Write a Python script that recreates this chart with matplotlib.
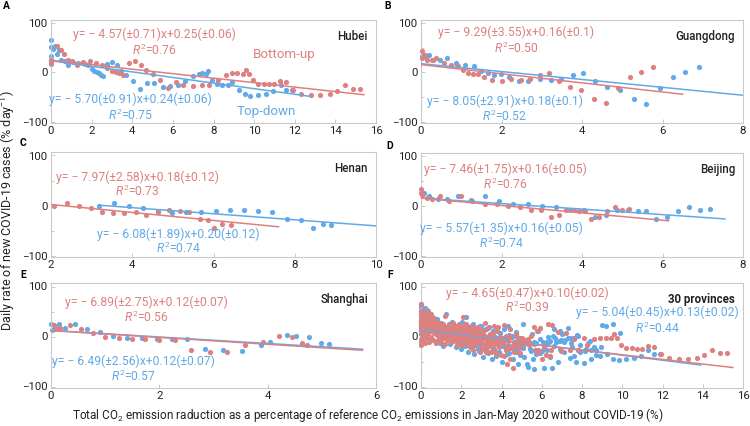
import numpy as np
import matplotlib.pyplot as plt

plt.rcParams['font.family'] = ['Roboto', 'DejaVu Sans']
plt.rcParams['mathtext.fontset'] = 'custom'
plt.rcParams['mathtext.rm'] = 'Roboto'
plt.rcParams['mathtext.it'] = 'Roboto:italic'

RED = '#dd8180'
BLUE = '#62a9e8'
SPINE = '#c9c9c9'

# ---------------- data ----------------
# A  Hubei
hubei_bu_x = [0, 0, 0.28, 0.48, 0.64, 0.82, 1.02, 1.3, 1.59, 1.92, 2.21, 2.49, 2.77, 2.98, 3.2, 3.36, 3.56,
              3.84, 4.13, 4.43, 4.7, 5.03, 5.36, 5.74, 6.13, 6.48, 6.97, 7.41, 7.79, 8.23, 8.61, 8.9, 9.18,
              9.43, 9.59, 9.75, 9.95, 10.2, 10.48, 10.74, 10.97, 11.26, 11.59, 11.92, 12.33, 12.82, 13.26,
              13.72, 14.08, 14.46, 14.87, 15.2]
hubei_bu_y = [26, 20, 54, 45, 37, 26, 23, 16, 22, 23, 20, 15, 9, 3, 1, -2, -5,
              20, 23, 16, 5, -3, -16, -31, -20, -26, -28, -26, -26, -16, -5, -2, -2,
              -3, 5, -3, -16, -23, -23, -24, -24, -18, -20, -35, -43, -45, -45,
              -43, -37, -26, -33, -33]
hubei_td_x = [0, 0.02, 0.02, 0, 0, 0.08, 0.2, 0.41, 0.31, 0.49, 0.69, 0.85, 1.07, 1.34, 1.67, 1.84, 2.0,
              2.13, 2.25, 2.38, 2.46, 2.57, 2.74, 2.98, 3.23, 3.43, 3.69, 4.05, 4.38, 4.74, 5.07, 5.49,
              5.85, 6.26, 6.62, 6.97, 7.28, 7.44, 7.61, 7.74, 7.92, 8.18, 8.44, 8.72, 8.92, 9.25, 9.54,
              9.82, 10.2, 10.6, 10.93, 11.3, 11.59, 11.87]
hubei_td_y = [66, 52, 33, 25, 17, 47, 54, 45, 37, 26, 23, 15, 22, 20, 18, 15, 8,
              3, 1, -2, -5, -7, 18, 22, 16, 3, -5, -17, -33, -22, -22, -29,
              -28, -26, -18, -7, -3, -2, -3, 3, -16, -24, -26, -26, -20, -35, -44,
              -47, -45, -43, -38, -26, -35, -35]

# B  Guangdong
guangdong_bu_x = [0.02, 0.02, 0.09, 0.15, 0.27, 0.38, 0.56, 0.74, 0.93, 1.05, 1.18, 1.3, 1.41, 1.57, 1.77,
                  2.0, 2.23, 2.48, 2.7, 2.95, 3.17, 3.42, 3.7, 3.98, 4.29, 4.59, 4.9, 5.19, 5.47, 5.77]
guangdong_bu_y = [44, 30, 35, 25, 26, 30, 20, 16, 13, 5, -1, -3, -3, -9, -16,
                  -17, -14, -16, -14, -5, -2, -17, -29, -36, -54, -63, -32, -10, 2, 12]
guangdong_td_x = [0.02, 0.12, 0.2, 0.3, 0.46, 0.64, 0.87, 1.09, 1.31, 1.49, 1.67, 1.82, 1.98, 2.19, 2.43,
                  2.67, 2.95, 3.23, 3.48, 3.77, 4.03, 4.32, 4.63, 4.94, 5.28, 5.6, 5.93, 6.26, 6.57, 6.9]
guangdong_td_y = [33, 32, 35, 25, 26, 30, 20, 16, 13, 3, -1, -5, -3, -9, -17,
                  -17, -14, -16, -14, -5, -2, -17, -29, -36, -54, -64, -32, -10, 2, 11]

# C  Henan
henan_bu_x = [2.07, 2.4, 2.7, 2.98, 3.25, 3.52, 3.8, 4.08, 4.34, 4.63, 4.9, 5.17, 5.4, 5.66, 5.86,
              6.02, 6.2, 6.42]
henan_bu_y = [0, 4.5, 0, -5, -13, -15, -15, -12, -18, -11, -8.5, -10, -12, -26, -28, -44, -37, -39]
henan_td_x = [3.18, 3.55, 3.92, 4.27, 4.63, 4.97, 5.33, 5.69, 6.05, 6.4, 6.75, 7.1, 7.45, 7.8, 8.15,
              8.45, 8.7, 8.9]
henan_td_y = [0, 4.5, 0, -5, -12, -15, -12, -13, -11, -9, -8.5, -10, -12, -26, -28, -44, -37, -39]

# D  Beijing
beijing_bu_x = [0, 0, 0.02, 0.14, 0.27, 0.47, 0.7, 1.0, 1.27, 1.58, 1.88, 2.17, 2.46, 2.73, 2.98, 3.23,
                3.44, 3.6, 3.79, 3.93, 4.07, 4.23, 4.43, 4.63, 4.83, 5.0, 5.18]
beijing_bu_y = [34, 27, 22, 17, 14, 21, 11, 21, 11, 4, 4, 0, -3, -8, -8, -23,
                -19, -9, -8, -11, -11, -26, -23, -10, -3, -9, -7]
beijing_td_x = [0.07, 0.21, 0.42, 0.65, 0.92, 1.25, 1.58, 1.93, 2.29, 2.65, 3.0, 3.36, 3.71, 4.04, 4.33,
                4.6, 4.88, 5.14, 5.38, 5.6, 5.83, 6.1, 6.38, 6.67, 6.92, 7.17]
beijing_td_y = [27, 21, 15, 14, 21, 12, 21, 11, 4, 4, 0, -3, -8, -8, -23,
                -19, -9, -8, -11, -11, -26, -23, -10, -3, -9, -7]

# E  Shanghai
shanghai_bu_x = [0.06, 0.1, 0.17, 0.35, 0.55, 0.77, 1.0, 1.25, 1.49, 1.74, 2.0, 2.28, 2.59, 2.93, 3.25,
                 3.58, 3.91, 4.2, 4.44, 4.63, 4.73]
shanghai_bu_y = [23, 18, 18, 23, 15, 8, -1, -3, -4, -5, -7, -7, -26, -30, -30,
                 -17, -11, 1, -1, -13, -17]
shanghai_td_x = [0, 0.01, 0.06, 0.14, 0.25, 0.44, 0.67, 0.91, 1.15, 1.41, 1.68, 1.96, 2.23, 2.51, 2.85,
                 3.18, 3.53, 3.87, 4.04, 4.36, 4.52, 4.77, 4.98, 5.14]
shanghai_td_y = [25, 13, 15, 25, 18, 25, 16, 10, 1, -2, -3, -4, -4, -5, -25,
                 -27, -28, -17, -10, 3, 1, -1, -12, -15]

# F  the other 25 provinces (added to A-E to make the 30-province panel)
other_bu_x = [0, 0, 0, 0, 0, 0, 0, 0.05, 0.05, 0.05, 0.1, 0.1, 0.1, 0.15, 0.15, 0.2, 0.2, 0.2, 0.25, 0.25,
              0.3, 0.3, 0.35, 0.35, 0.4, 0.4, 0.45, 0.45, 0.5, 0.5,
              0.55, 0.6, 0.6, 0.65, 0.7, 0.7, 0.75, 0.8, 0.8, 0.85, 0.9, 0.9, 0.95, 1.0, 1.0, 1.05, 1.1, 1.1,
              1.15, 1.2, 1.2, 1.25, 1.3, 1.3, 1.35, 1.4, 1.45, 1.5, 1.5,
              1.55, 1.6, 1.6, 1.65, 1.7, 1.75, 1.8, 1.85, 1.9, 1.95, 2.0, 2.0, 2.05, 2.1, 2.1, 2.15, 2.2,
              2.25, 2.3, 2.35, 2.4, 2.45, 2.5, 2.5,
              2.55, 2.6, 2.65, 2.7, 2.75, 2.8, 2.85, 2.9, 2.95, 3.0, 3.0, 3.05, 3.1, 3.15, 3.2, 3.25, 3.3,
              3.35, 3.4, 3.45, 3.5,
              3.55, 3.6, 3.65, 3.7, 3.75, 3.8, 3.9, 3.95, 4.05, 4.1, 4.2, 4.3, 4.4, 4.5, 4.6, 4.7, 4.85, 5.0,
              5.3, 5.6, 5.9, 6.3, 6.5, 6.8, 7.2, 7.6, 8.1]
other_bu_y = [65, 52, 40, 30, 12, -5, -17, 48, 22, 5, 38, 15, -8, 28, 2, 45, 10, -12, 33, 18,
              25, -3, 40, 8, 20, -10, 30, 12, 35, 0,
              18, 25, -6, 8, 28, 14, -12, 20, 3, 30, 10, -4, 22, 15, -10, 5, 25, -2,
              12, 42, -14, 20, 8, -6, 15, 24, 2, 18, -10,
              10, 28, -3, 16, 5, 22, -8, 12, 25, 0, 15, -15, 8, 40, 20, -5, 12,
              25, 2, -12, 15, -20, 22, 5,
              -8, 10, 18, -3, -15, 8, 20, -10, 2, 15, -22, -5, 10, -15, 28, 0, -28,
              18, -10, 5, -30,
              -18, 8, 22, -5, -35, 12, -20, 0, -12, -38, -25, -8, -45, -18, -30, -10, -22, -15,
              -5, 20, 18, 25, 23, 10, 8, -5, -3]
other_td_x = [0, 0, 0, 0, 0, 0.05, 0.05, 0.1, 0.1, 0.15, 0.15, 0.2, 0.2, 0.25, 0.25, 0.3, 0.35, 0.35,
              0.4, 0.45, 0.45, 0.5,
              0.55, 0.6, 0.65, 0.7, 0.75, 0.8, 0.85, 0.9, 0.95, 1.0, 1.05, 1.1, 1.15, 1.2, 1.25, 1.3, 1.35,
              1.4, 1.45, 1.5, 1.55, 1.6, 1.7, 1.75, 1.8, 1.85, 1.9, 1.95,
              2.0, 2.05, 2.1, 2.15, 2.2, 2.25, 2.3, 2.35, 2.4, 2.45, 2.5, 2.55, 2.6, 2.65, 2.7, 2.75, 2.8,
              2.85, 2.9, 2.95, 3.0, 3.05, 3.1, 3.15, 3.2, 3.25, 3.3, 3.35, 3.4, 3.45, 3.5, 3.55, 3.6, 3.65,
              3.7, 3.75, 3.8, 3.85, 3.9, 3.95,
              4.0, 4.05, 4.1, 4.2, 4.25, 4.3, 4.4, 4.5, 4.55, 4.6, 4.7, 4.75, 4.8, 4.9, 5.0, 5.05, 5.1, 5.2,
              5.3, 5.4, 5.5, 5.55, 5.6, 5.7, 5.8, 5.9, 6.0,
              6.1, 6.2, 6.3, 6.4, 6.5, 6.6, 6.7, 6.8, 6.9, 7.0, 7.1, 7.3, 7.4, 7.5, 7.6, 7.7, 7.8, 7.9,
              8.1, 8.3, 8.4, 8.6, 9.0, 9.2, 9.55, 9.9]
other_td_y = [60, 45, 25, 5, -10, 55, 35, 50, 15, 42, -2, 58, 28, 48, 8, 38, 52, 18,
              30, 45, -5, 25,
              40, 12, 30, -8, 22, 35, 5, 18, -12, 28, 10, -18, 20, 3, 45, 15, -5,
              25, -15, 10, 30, -8, 18, -20, 5, 22, -12, 12,
              -25, 30, 0, 15, -18, 40, 8, -30, 20, -8, 12, -20, 25, -35, 5, 18, -15,
              0, -28, 22, -10, 10, -40, 2, -22, 15, -5, -32, 20, -15, 5, -45, 12, -25,
              0, -38, 18, -10, -30, 8,
              -50, -18, 15, -5, -35, 22, -22, 0, -45, -12, 10, -30, -55, -2, -20, 25, -40, -8,
              -60, -25, 5, -45, -15, -35, 12, -5, -28,
              -62, -15, 0, -40, -62, 15, -10, -50, -25, 5, -30, 18, -42, -20, -38, -50, 2, -30,
              -52, -12, -8, -20, 24, 21, 26, 7]

# regressions: slope, slope err, intercept (fraction), intercept err, R2
fits = {
    'A': dict(bu=(-4.57, '0.71', 0.25, '0.06', 0.76), td=(-5.70, '0.91', 0.24, '0.06', 0.75)),
    'B': dict(bu=(-9.29, '3.55', 0.16, '0.1', 0.50), td=(-8.05, '2.91', 0.18, '0.1', 0.52)),
    'C': dict(bu=(-7.97, '2.58', 0.18, '0.12', 0.73), td=(-6.08, '1.89', 0.20, '0.12', 0.74)),
    'D': dict(bu=(-7.46, '1.75', 0.16, '0.05', 0.76), td=(-5.57, '1.35', 0.16, '0.05', 0.74)),
    'E': dict(bu=(-6.89, '2.75', 0.12, '0.07', 0.56), td=(-6.49, '2.56', 0.12, '0.07', 0.57)),
    'F': dict(bu=(-4.65, '0.47', 0.10, '0.02', 0.39), td=(-5.04, '0.45', 0.13, '0.02', 0.44)),
}

all_bu_x = hubei_bu_x + guangdong_bu_x + henan_bu_x + beijing_bu_x + shanghai_bu_x + other_bu_x
all_bu_y = hubei_bu_y + guangdong_bu_y + henan_bu_y + beijing_bu_y + shanghai_bu_y + other_bu_y
all_td_x = hubei_td_x + guangdong_td_x + henan_td_x + beijing_td_x + shanghai_td_x + other_td_x
all_td_y = hubei_td_y + guangdong_td_y + henan_td_y + beijing_td_y + shanghai_td_y + other_td_y

# ---------------- layout ----------------
W, H = 750, 426
panels = {
    'A': dict(rect=[51, 20, 325, 103], xlim=(0, 16), xt=range(0, 17, 2), name='Hubei',
              data=(hubei_bu_x, hubei_bu_y, hubei_td_x, hubei_td_y),
              bu_rng=(0, 15.4), td_rng=(0, 12.75),
              bu_txt=(5.07, 77, 45), td_txt=(3.9, -55, -87)),
    'B': dict(rect=[421, 20, 322, 103], xlim=(0, 8), xt=range(0, 9, 2), name='Guangdong',
              data=(guangdong_bu_x, guangdong_bu_y, guangdong_td_x, guangdong_td_y),
              bu_rng=(0, 6.5), td_rng=(0, 8),
              bu_txt=(2.37, 81, 50), td_txt=(2.08, -58, -89)),
    'C': dict(rect=[51, 152, 325, 105], xlim=(2, 10), xt=range(2, 11, 2), name='Henan',
              data=(henan_bu_x, henan_bu_y, henan_td_x, henan_td_y),
              bu_rng=(2, 7.6), td_rng=(3.2, 10),
              bu_txt=(4.13, 57, 28), td_txt=(5.13, -57, -86)),
    'D': dict(rect=[421, 153, 322, 104], xlim=(0, 8), xt=range(0, 9, 2), name='Beijing',
              data=(beijing_bu_x, beijing_bu_y, beijing_td_x, beijing_td_y),
              bu_rng=(0, 6.15), td_rng=(0, 7.55),
              bu_txt=(2.1, 74, 44), td_txt=(2.0, -45, -75)),
    'E': dict(rect=[51, 283, 325, 105], xlim=(0, 6), xt=range(0, 7, 2), name='Shanghai',
              data=(shanghai_bu_x, shanghai_bu_y, shanghai_td_x, shanghai_td_y),
              bu_rng=(0, 5.75), td_rng=(0, 5.75),
              bu_txt=(1.77, 68, 38), td_txt=(1.52, -49, -79)),
    'F': dict(rect=[421, 283, 322, 105], xlim=(0, 16), xt=range(0, 17, 2), name='30 provinces',
              data=(all_bu_x, all_bu_y, all_td_x, all_td_y),
              bu_rng=(0, 15.5), td_rng=(0, 13.9),
              bu_txt=(5.28, 86, 58), td_txt=(11.76, 48, 17)),
}
letter_pos = {'A': (6, 6), 'B': (388, 6), 'C': (23, 143), 'D': (390, 146), 'E': (23, 275), 'F': (390, 275)}

fig = plt.figure(figsize=(W / 100, H / 100), dpi=100)

for key, p in panels.items():
    l, t, w, h = p['rect']
    ax = fig.add_axes([l / W, 1 - (t + h) / H, w / W, h / H])
    bx, by, tx, ty = p['data']
    ax.scatter(tx, ty, s=14, color=BLUE, linewidths=0, zorder=2, clip_on=False)
    ax.scatter(bx, by, s=14, color=RED, linewidths=0, zorder=3, clip_on=False)

    f = fits[key]
    for kind, col, rng in (('td', BLUE, p['td_rng']), ('bu', RED, p['bu_rng'])):
        slope, serr, icpt, ierr, r2 = f[kind]
        xs = np.array(rng)
        ax.plot(xs, slope * xs + icpt * 100, color=col, lw=1.1, zorder=4)
        x0, ye, yr = p[kind + '_txt']
        label = f"y= \u2212 {abs(slope):.2f}(\u00b1{serr})x+{icpt:.2f}(\u00b1{ierr})"
        ax.text(x0, ye, label, color=col, fontsize=8.7, ha='center', va='center', zorder=5)
        ax.text(x0, yr, r'$\mathit{R}^2$' + f'={r2:.2f}', color=col, fontsize=8.7,
                ha='center', va='center', zorder=5)

    ax.text(0.975, 0.84, p['name'], transform=ax.transAxes, ha='right', va='center',
            fontsize=8.3, color='#222222', fontweight='bold' if key == 'F' else 'medium')

    ax.set_xlim(*p['xlim'])
    ax.set_ylim(-103, 107)
    ax.set_xticks(list(p['xt']))
    ax.set_yticks([-100, 0, 100])
    ax.set_yticks([-50, 50], minor=True)
    ax.tick_params(axis='both', which='both', direction='in', color=SPINE, labelsize=8.2,
                   labelcolor='#222222', length=3, width=0.7, pad=2.5)
    ax.tick_params(axis='y', which='minor', length=2)
    for sp in ax.spines.values():
        sp.set_color(SPINE)
        sp.set_linewidth(0.8)

    lx, ly = letter_pos[key]
    fig.text(lx / W, 1 - ly / H, key, fontsize=7.5, fontweight='bold', ha='center', va='center')

    if key == 'A':
        ax.text(11.5, 36, 'Bottom-up', color=RED, fontsize=9.6, ha='center', va='center')
        ax.text(10.6, -80, 'Top-down', color=BLUE, fontsize=9.6, ha='center', va='center')

fig.text(8.5 / W, 0.505, 'Daily rate of new COVID-19 cases (% day$^{-1}$)', rotation=90,
         ha='center', va='center', fontsize=9, color='#222222')
fig.text(0.49, 0.026, 'Total CO$_2$ emission raduction as a percentage of reference CO$_2$ '
         'emissions in Jan-May 2020 without COVID-19 (%)', ha='center', va='center',
         fontsize=8.5, color='#222222')

fig.savefig('out.png', dpi=100)
